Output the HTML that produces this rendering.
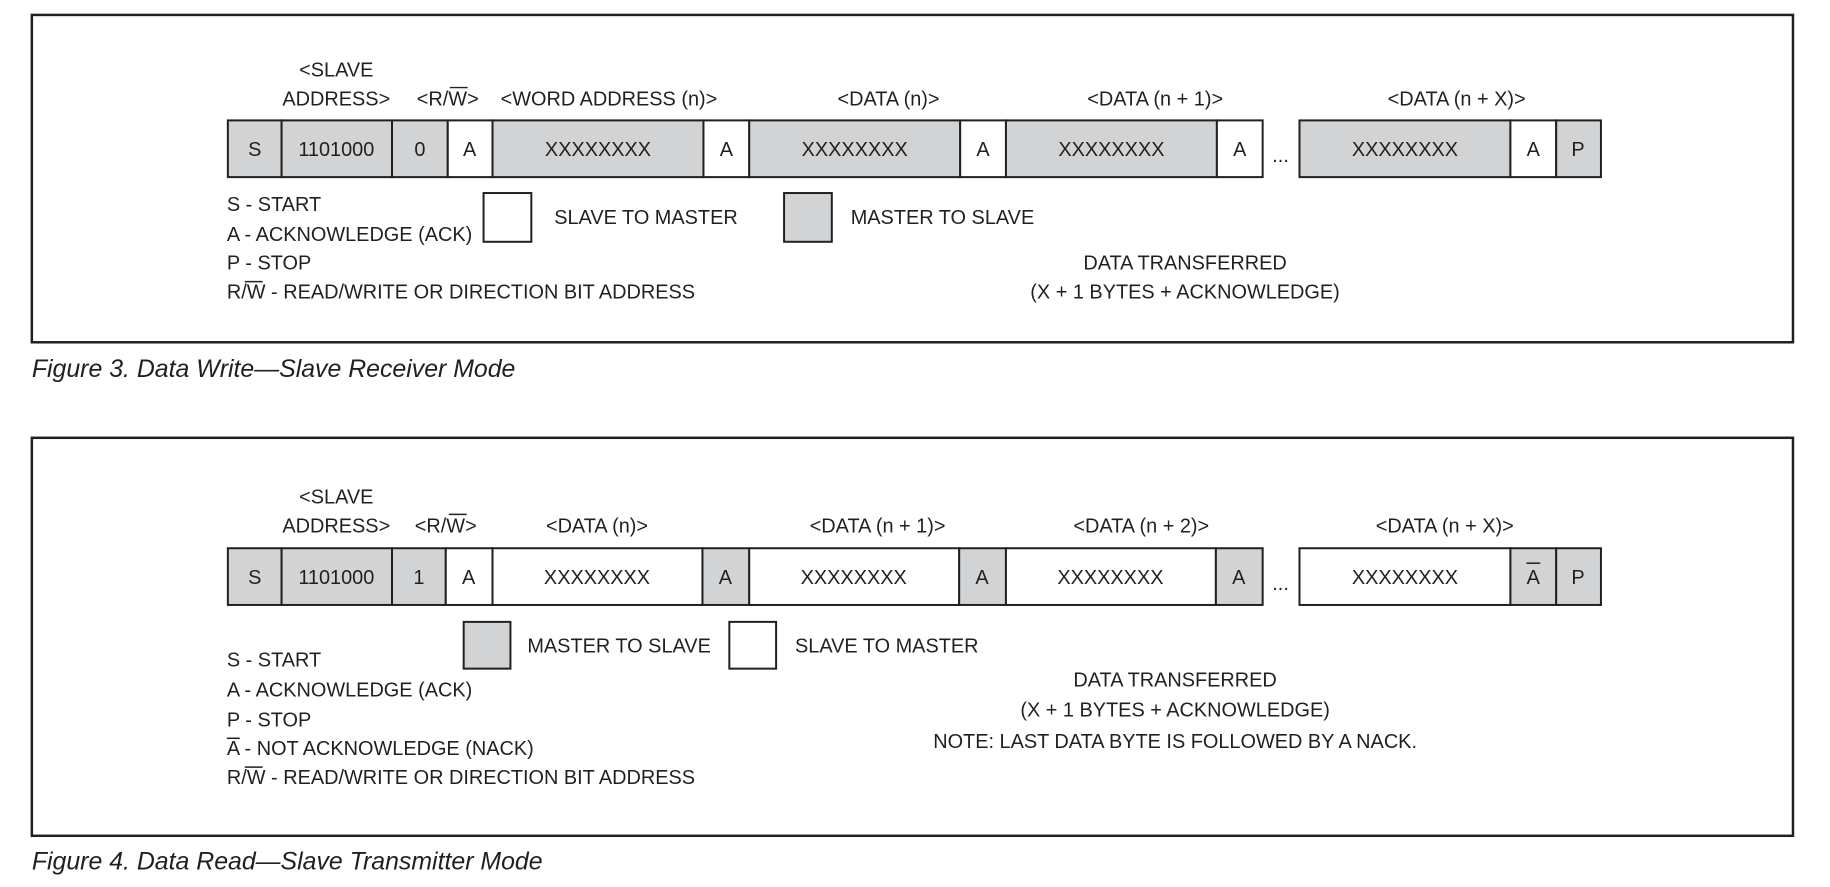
<!DOCTYPE html>
<html><head><meta charset="utf-8"><style>
html,body{margin:0;padding:0;background:#fff;}
svg{display:block}
text{font-family:"Liberation Sans",Arial,sans-serif;font-size:20px;fill:#231f20;}
.c{text-anchor:middle}
.cap{font-style:italic;font-size:25px}
</style></head><body>
<svg width="1830" height="887" viewBox="0 0 1830 887" xmlns="http://www.w3.org/2000/svg">
<g transform="scale(0.995)">
<g fill="none" stroke="#231f20" stroke-width="2.5">
<rect x="32" y="15" width="1770" height="329"/>
<rect x="32" y="440" width="1770" height="400"/>
</g>
<text x="32" y="379" class="cap">Figure 3. Data Write—Slave Receiver Mode</text>
<text x="32" y="874" class="cap">Figure 4. Data Read—Slave Transmitter Mode</text>

<!-- Row 1 -->
<g stroke="#231f20" stroke-width="2">
<rect x="229" y="121" width="54" height="57" fill="#d1d3d4"/>
<rect x="283" y="121" width="111" height="57" fill="#d1d3d4"/>
<rect x="394" y="121" width="56" height="57" fill="#d1d3d4"/>
<rect x="450" y="121" width="45" height="57" fill="#fff"/>
<rect x="495" y="121" width="212" height="57" fill="#d1d3d4"/>
<rect x="707" y="121" width="46" height="57" fill="#fff"/>
<rect x="753" y="121" width="212" height="57" fill="#d1d3d4"/>
<rect x="965" y="121" width="46" height="57" fill="#fff"/>
<rect x="1011" y="121" width="212" height="57" fill="#d1d3d4"/>
<rect x="1223" y="121" width="46" height="57" fill="#fff"/>
<rect x="1306" y="121" width="212" height="57" fill="#d1d3d4"/>
<rect x="1518" y="121" width="46" height="57" fill="#fff"/>
<rect x="1564" y="121" width="45" height="57" fill="#d1d3d4"/>
<rect x="486" y="194" width="48" height="49" fill="#fff"/>
<rect x="788" y="194" width="48" height="49" fill="#d1d3d4"/>
</g>
<g>
<text x="256" y="157" class="c">S</text>
<text x="338" y="157" class="c">1101000</text>
<text x="422" y="157" class="c">0</text>
<text x="472" y="157" class="c">A</text>
<text x="601" y="157" class="c">XXXXXXXX</text>
<text x="730" y="157" class="c">A</text>
<text x="859" y="157" class="c">XXXXXXXX</text>
<text x="988" y="157" class="c">A</text>
<text x="1117" y="157" class="c">XXXXXXXX</text>
<text x="1246" y="157" class="c">A</text>
<text x="1287" y="163" class="c">...</text>
<text x="1412" y="157" class="c">XXXXXXXX</text>
<text x="1541" y="157" class="c">A</text>
<text x="1586" y="157" class="c">P</text>
<text x="338" y="77" class="c">&lt;SLAVE</text>
<text x="338" y="106" class="c">ADDRESS&gt;</text>
<text x="450" y="106" class="c">&lt;R/W&gt;</text>
<text x="612" y="106" class="c">&lt;WORD ADDRESS (n)&gt;</text>
<text x="893" y="106" class="c">&lt;DATA (n)&gt;</text>
<text x="1161" y="106" class="c">&lt;DATA (n + 1)&gt;</text>
<text x="1464" y="106" class="c">&lt;DATA (n + X)&gt;</text>
</g>
<line x1="452" y1="88" x2="470" y2="88" stroke="#231f20" stroke-width="1.5"/>
<text x="228" y="212">S - START</text>
<text x="228" y="242">A - ACKNOWLEDGE (ACK)</text>
<text x="228" y="271">P - STOP</text>
<text x="228" y="300">R/W - READ/WRITE OR DIRECTION BIT ADDRESS</text>
<line x1="246" y1="283" x2="264" y2="283" stroke="#231f20" stroke-width="1.5"/>
<text x="557" y="225">SLAVE TO MASTER</text>
<text x="855" y="225">MASTER TO SLAVE</text>
<text x="1191" y="271" class="c">DATA TRANSFERRED</text>
<text x="1191" y="300" class="c">(X + 1 BYTES + ACKNOWLEDGE)</text>

<!-- Row 2 -->
<g stroke="#231f20" stroke-width="2">
<rect x="229" y="551" width="54" height="57" fill="#d1d3d4"/>
<rect x="283" y="551" width="111" height="57" fill="#d1d3d4"/>
<rect x="394" y="551" width="54" height="57" fill="#d1d3d4"/>
<rect x="448" y="551" width="47" height="57" fill="#fff"/>
<rect x="495" y="551" width="211" height="57" fill="#fff"/>
<rect x="706" y="551" width="47" height="57" fill="#d1d3d4"/>
<rect x="753" y="551" width="211" height="57" fill="#fff"/>
<rect x="964" y="551" width="47" height="57" fill="#d1d3d4"/>
<rect x="1011" y="551" width="211" height="57" fill="#fff"/>
<rect x="1222" y="551" width="47" height="57" fill="#d1d3d4"/>
<rect x="1306" y="551" width="212" height="57" fill="#fff"/>
<rect x="1518" y="551" width="46" height="57" fill="#d1d3d4"/>
<rect x="1564" y="551" width="45" height="57" fill="#d1d3d4"/>
<rect x="466" y="625" width="47" height="47" fill="#d1d3d4"/>
<rect x="733" y="625" width="47" height="47" fill="#fff"/>
</g>
<g>
<text x="256" y="587" class="c">S</text>
<text x="338" y="587" class="c">1101000</text>
<text x="421" y="587" class="c">1</text>
<text x="471" y="587" class="c">A</text>
<text x="600" y="587" class="c">XXXXXXXX</text>
<text x="729" y="587" class="c">A</text>
<text x="858" y="587" class="c">XXXXXXXX</text>
<text x="987" y="587" class="c">A</text>
<text x="1116" y="587" class="c">XXXXXXXX</text>
<text x="1245" y="587" class="c">A</text>
<text x="1287" y="593" class="c">...</text>
<text x="1412" y="587" class="c">XXXXXXXX</text>
<text x="1541" y="587" class="c">A</text>
<text x="1586" y="587" class="c">P</text>
<text x="338" y="506" class="c">&lt;SLAVE</text>
<text x="338" y="535" class="c">ADDRESS&gt;</text>
<text x="448" y="535" class="c">&lt;R/W&gt;</text>
<text x="600" y="535" class="c">&lt;DATA (n)&gt;</text>
<text x="882" y="535" class="c">&lt;DATA (n + 1)&gt;</text>
<text x="1147" y="535" class="c">&lt;DATA (n + 2)&gt;</text>
<text x="1452" y="535" class="c">&lt;DATA (n + X)&gt;</text>
</g>
<line x1="451" y1="517" x2="469" y2="517" stroke="#231f20" stroke-width="1.5"/>
<line x1="1534" y1="566" x2="1548" y2="566" stroke="#231f20" stroke-width="1.5"/>
<text x="530" y="656">MASTER TO SLAVE</text>
<text x="799" y="656">SLAVE TO MASTER</text>
<text x="228" y="670">S - START</text>
<text x="228" y="700">A - ACKNOWLEDGE (ACK)</text>
<text x="228" y="730">P - STOP</text>
<text x="228" y="759">A - NOT ACKNOWLEDGE (NACK)</text>
<line x1="228" y1="742" x2="241" y2="742" stroke="#231f20" stroke-width="1.5"/>
<text x="228" y="788">R/W - READ/WRITE OR DIRECTION BIT ADDRESS</text>
<line x1="246" y1="771" x2="264" y2="771" stroke="#231f20" stroke-width="1.5"/>
<text x="1181" y="690" class="c">DATA TRANSFERRED</text>
<text x="1181" y="720" class="c">(X + 1 BYTES + ACKNOWLEDGE)</text>
<text x="1181" y="752" class="c">NOTE: LAST DATA BYTE IS FOLLOWED BY A NACK.</text>
</g>
</svg>
</body></html>
